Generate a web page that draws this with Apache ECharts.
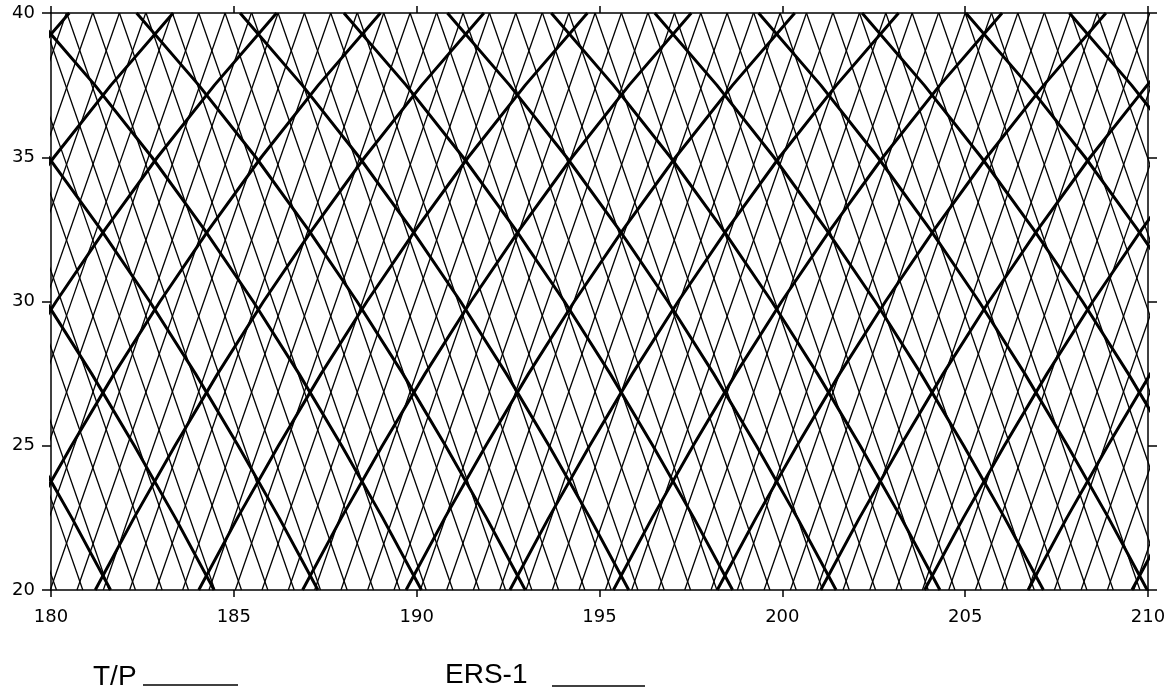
<!DOCTYPE html>
<html>
<head>
<meta charset="utf-8">
<script src="https://cdn.jsdelivr.net/npm/echarts@6/dist/echarts.min.js"></script>
<style>
html,body{margin:0;padding:0;background:#fff;}
#chart{width:1174px;height:692px;}
</style>
</head>
<body>
<div id="chart"></div>
<script>
// ---- axis ranges ----
const lonRange = [180, 210];
const latRange = [20, 40];
const tickStep = 5;

// ---- legend labels ----
const seriesNames = ['T/P', 'ERS-1'];

// ---- T/P (thick) ground tracks: longitude offset (deg) along the track vs latitude ----
const tpLats   = [20, 22.5, 25, 27.5, 30, 32.5, 35, 37.5, 40];
const tpOffset = [0, 1.06, 2.18, 3.35, 4.60, 5.94, 7.37, 8.93, 10.63];
// longitudes where each T/P track meets 20N
const tpAscLon20  = [169.87, 172.71, 175.54, 178.38, 181.21, 184.04, 186.88, 189.71, 192.55, 195.38, 198.22, 201.05, 203.89, 206.72, 209.56];
const tpDescLon20 = [181.63, 184.46, 187.30, 190.13, 192.97, 195.80, 198.64, 201.47, 204.31, 207.14, 209.98, 212.81, 215.65, 218.48, 221.31];

// ---- ERS-1 (thin) ground tracks: straight, longitude shift between 20N and 40N ----
const ersLats  = [20, 40];
const ersShift = [0, 5.50];
const ersUpLeftLon20 = [180.15, 180.87, 181.59, 182.31, 183.04, 183.76, 184.48, 185.21, 185.93, 186.65,
  187.37, 188.10, 188.82, 189.54, 190.26, 190.99, 191.71, 192.43, 193.15, 193.88,
  194.60, 195.32, 196.05, 196.77, 197.49, 198.21, 198.94, 199.66, 200.38, 201.10,
  201.83, 202.55, 203.27, 203.99, 204.72, 205.44, 206.16, 206.89, 207.61, 208.33,
  209.05, 209.78, 210.50, 211.22, 211.94, 212.67, 213.39, 214.11, 214.84, 215.56];
const ersUpRightLon20 = [174.20, 174.92, 175.64, 176.37, 177.09, 177.81, 178.54, 179.26, 179.98,
  180.71, 181.43, 182.15, 182.87, 183.60, 184.32, 185.04, 185.77, 186.49, 187.21,
  187.93, 188.66, 189.38, 190.10, 190.82, 191.55, 192.27, 192.99, 193.71, 194.44,
  195.16, 195.88, 196.61, 197.33, 198.05, 198.77, 199.50, 200.22, 200.94, 201.66,
  202.39, 203.11, 203.83, 204.55, 205.28, 206.00, 206.72, 207.44, 208.17, 208.89, 209.61];

// ---- build tracks ----
function track(lon20, lats, offs, sign) {
  return lats.map((lat, i) => [lon20 + sign * offs[i], lat]);
}
const series = [];
function addTracks(list, lats, offs, sign, name, width, z) {
  list.forEach(l0 => {
    series.push({
      type: 'line', name: name, xAxisIndex: 0, yAxisIndex: 0,
      data: track(l0, lats, offs, sign),
      symbol: 'none', silent: true, animation: false, clip: true, z: z,
      lineStyle: { color: '#000', width: width }
    });
  });
}
addTracks(ersUpLeftLon20, ersLats, ersShift, -1, seriesNames[1], 1.3, 2);
addTracks(ersUpRightLon20, ersLats, ersShift, 1, seriesNames[1], 1.3, 2);
addTracks(tpAscLon20, tpLats, tpOffset, 1, seriesNames[0], 3, 3);
addTracks(tpDescLon20, tpLats, tpOffset, -1, seriesNames[0], 3, 3);

const lineSt = { color: '#000', width: 1.5 };
const labelFont = { color: '#000', fontSize: 18, fontFamily: 'DejaVu Sans' };

function xAx(pos, showLabel) {
  return {
    type: 'value', position: pos, min: lonRange[0], max: lonRange[1], interval: tickStep,
    axisLine: { show: true, onZero: false, lineStyle: lineSt },
    axisTick: { show: true, inside: false, length: 7, lineStyle: lineSt },
    axisLabel: Object.assign({ show: showLabel, margin: 18, showMinLabel: true, showMaxLabel: true }, labelFont),
    splitLine: { show: false }
  };
}
function yAx(pos, showLabel) {
  return {
    type: 'value', position: pos, min: latRange[0], max: latRange[1], interval: tickStep,
    axisLine: { show: true, onZero: false, lineStyle: lineSt },
    axisTick: { show: true, inside: false, length: 9, lineStyle: lineSt },
    axisLabel: Object.assign({ show: showLabel, margin: 16, showMinLabel: true, showMaxLabel: true }, labelFont),
    splitLine: { show: false }
  };
}

const chart = echarts.init(document.getElementById('chart'), null, { renderer: 'canvas' });
chart.setOption({
  backgroundColor: '#fff',
  animation: false,
  grid: { left: 51, right: 26, top: 13, bottom: 102, containLabel: false, outerBoundsMode: 'none' },
  xAxis: [xAx('bottom', true), xAx('top', false)],
  yAxis: [yAx('left', true), yAx('right', false)],
  tooltip: { show: false },
  series: series,
  graphic: [
    { type: 'text', x: 93, y: 677, silent: true,
      style: { text: seriesNames[0], font: '28px "Liberation Sans", Arial, sans-serif', fill: '#000', align: 'left', verticalAlign: 'middle' } },
    { type: 'line', silent: true, shape: { x1: 143, y1: 685, x2: 238, y2: 685 }, style: { stroke: '#000', lineWidth: 1.5 } },
    { type: 'text', x: 445, y: 675, silent: true,
      style: { text: seriesNames[1], font: '28px "Liberation Sans", Arial, sans-serif', fill: '#000', align: 'left', verticalAlign: 'middle' } },
    { type: 'line', silent: true, shape: { x1: 552, y1: 686, x2: 645, y2: 686 }, style: { stroke: '#000', lineWidth: 1.5 } }
  ]
});
</script>
</body>
</html>
